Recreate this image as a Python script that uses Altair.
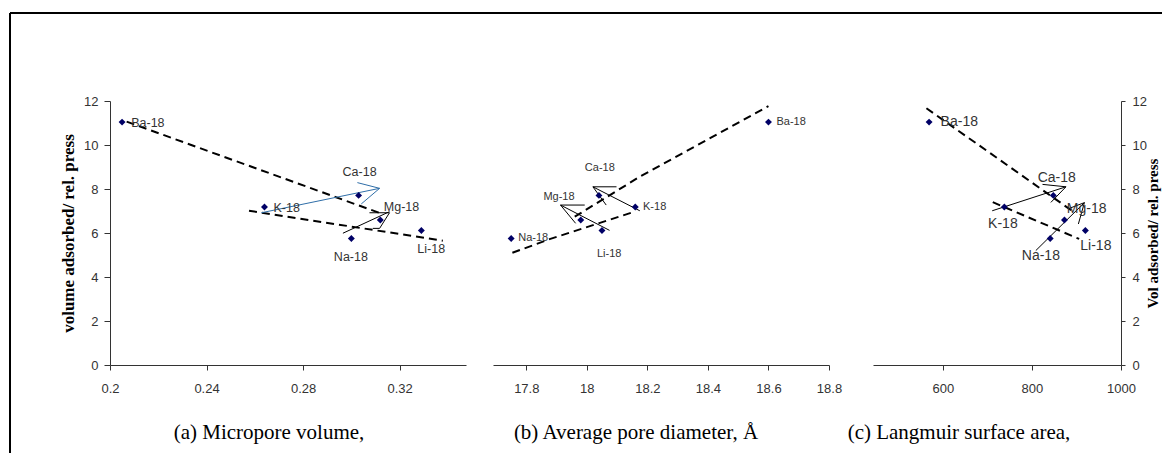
import altair as alt
import pandas as pd

# ---------------- data ----------------
samples = ["Ba-18", "K-18", "Ca-18", "Mg-18", "Na-18", "Li-18"]
vol_adsorbed = [11.04, 7.18, 7.71, 6.59, 5.75, 6.11]
micropore_volume = [0.205, 0.264, 0.303, 0.312, 0.300, 0.329]
pore_diameter = [18.60, 18.16, 18.04, 17.98, 17.75, 18.05]
langmuir_area = [569, 738, 848, 873, 841, 920]

y_ticks = [0, 2, 4, 6, 8, 10, 12]
a_ticks = [0.2, 0.24, 0.28, 0.32]
b_ticks = [17.8, 18.0, 18.2, 18.4, 18.6, 18.8]
c_ticks = [600, 800, 1000]

a_domain = [0.2, 0.3475]
b_domain = [17.69, 18.8]
c_domain = [443, 1000]

# label anchor points (same sample order)
a_label_x = [0.2157, 0.2732, 0.3034, 0.3208, 0.2998, 0.3331]
a_label_y = [10.99, 7.12, 8.76, 7.18, 4.90, 5.26]
b_label_x = [18.675, 18.224, 18.043, 17.908, 17.823, 18.074]
b_label_y = [11.06, 7.20, 8.97, 7.65, 5.76, 5.03]
c_label_x = [636.8, 734.7, 855.6, 923.0, 820.0, 943.5]
c_label_y = [11.06, 6.41, 8.51, 7.09, 4.97, 5.42]

# dashed trend lines: (line id, x, y)
a_trend = [(1, 0.2069, 11.06), (1, 0.313, 6.86), (2, 0.2576, 7.01), (2, 0.3379, 5.65)]
b_trend = [(1, 17.96, 6.74), (1, 18.175, 8.56), (1, 18.60, 11.77),
           (2, 17.754, 5.10), (2, 17.877, 5.72), (2, 18.158, 6.97)]
c_trend = [(1, 563, 11.67), (1, 890, 7.01), (2, 712, 7.40), (2, 906, 5.73)]

# leader arrows: (x1, y1, x2, y2)
a_blue_arrows = [(0.2627, 6.92, 0.3117, 8.03), (0.3117, 8.03, 0.3025, 8.29),
                 (0.3117, 8.03, 0.3041, 7.32)]
a_black_arrows = [(0.2965, 5.99, 0.3158, 6.97), (0.3075, 6.92, 0.3158, 6.92),
                  (0.3158, 6.92, 0.3117, 6.21), (0.3089, 6.21, 0.3117, 6.21)]
b_arrows = [(18.175, 7.01, 18.02, 8.10), (18.02, 8.10, 18.098, 8.10),
            (18.02, 8.10, 18.064, 7.27), (18.075, 6.12, 17.913, 7.27),
            (17.913, 7.27, 17.993, 7.27), (17.913, 7.27, 17.963, 6.44)]
c_arrows = [(710.7, 7.01, 876.4, 8.10), (876.4, 8.10, 823.7, 8.21),
            (876.4, 8.10, 842.5, 7.39), (808.6, 5.20, 917.8, 7.38),
            (917.8, 7.38, 883.9, 7.12), (917.8, 7.38, 904.3, 6.41)]

captions = ["(a) Micropore volume,", "(b) Average pore diameter, Å", "(c) Langmuir surface area,"]

H = 264
SANS = "Liberation Sans"
SERIF = "Liberation Serif"


def seg_df(segs):
    return pd.DataFrame(segs, columns=["x", "y", "x2", "y2"])


def panel(xvals, domain, ticks, fmt, width, lab_x, lab_y, lab_size, trend, arrow_sets,
          caption, cap_x, y_axis, extra=None):
    xs = alt.Scale(domain=domain, nice=False, zero=False)
    ys = alt.Scale(domain=[0, 12], nice=False, zero=False)
    x_axis = alt.Axis(values=ticks, format=fmt, title=None, grid=False, tickSize=5,
                      labelPadding=12, labelFontSize=13, labelFont=SANS, labelColor="#333",
                      domainColor="#333", tickColor="#333", labelFlush=False,
                      labelOverlap=False)
    X = alt.X("x:Q", scale=xs, axis=x_axis)
    Y = alt.Y("y:Q", scale=ys, axis=y_axis)

    trend_df = pd.DataFrame(trend, columns=["line", "x", "y"])
    layers = [
        alt.Chart(trend_df).mark_line(color="black", strokeWidth=2, strokeDash=[8, 5])
        .encode(x=X, y=Y, detail="line:N")
    ]
    for segs, col in arrow_sets:
        layers.append(
            alt.Chart(seg_df(segs)).mark_rule(color=col, strokeWidth=1)
            .encode(x=X, y=Y, x2="x2:Q", y2="y2:Q")
        )
    pts = pd.DataFrame({"x": xvals, "y": vol_adsorbed, "name": samples})
    layers.append(
        alt.Chart(pts).mark_point(shape="diamond", filled=True, size=48,
                                  color="#000066", opacity=1)
        .encode(x=X, y=Y)
    )
    labs = pd.DataFrame({"x": lab_x, "y": lab_y, "name": samples})
    layers.append(
        alt.Chart(labs).mark_text(fontSize=lab_size, font=SANS, color="#333",
                                  align="center", baseline="middle")
        .encode(x=X, y=Y, text="name:N")
    )
    layers.append(
        alt.Chart(pd.DataFrame({"t": [caption]})).mark_text(
            font=SERIF, fontSize=21, color="black", align="center", baseline="middle")
        .encode(x=alt.value(cap_x), y=alt.value(332), text="t:N")
    )
    if extra:
        layers.extend(extra)
    return alt.layer(*layers).properties(width=width, height=H)


one = pd.DataFrame({"k": [0]})
border = [
    alt.Chart(one).mark_rule(color="black", strokeWidth=2)
    .encode(x=alt.value(-100), x2=alt.value(1052), y=alt.value(-88)),
    alt.Chart(one).mark_rule(color="black", strokeWidth=2)
    .encode(x=alt.value(-100), y=alt.value(-88), y2=alt.value(352)),
]

axis_a = alt.Axis(values=y_ticks, title="volume adsorbed/ rel. press", titleFont=SERIF,
                  titleFontWeight="bold", titleFontSize=17, titlePadding=6, titleColor="black",
                  grid=False, tickSize=6, labelPadding=6, labelFontSize=13, labelFont=SANS,
                  labelColor="#333", domainColor="#333", tickColor="#333")
axis_c = alt.Axis(orient="right", values=y_ticks, title="Vol adsorbed/ rel. press",
                  titleAngle=270, titleFont=SERIF, titleFontWeight="bold", titleFontSize=15,
                  titlePadding=14, titleColor="black", grid=False, tickSize=4, labelPadding=7,
                  labelFontSize=13, labelFont=SANS, labelColor="#333", domainColor="#333",
                  tickColor="#333")

pa = panel(micropore_volume, a_domain, a_ticks, "~g", 356, a_label_x, a_label_y, 12.5, a_trend,
           [(a_blue_arrows, "#2f6ea8"), (a_black_arrows, "black")], captions[0], 159,
           axis_a, border)
pb = panel(pore_diameter, b_domain, b_ticks, "~g", 336, b_label_x, b_label_y, 11, b_trend,
           [(b_arrows, "black")], captions[1], 143, None)
pc = panel(langmuir_area, c_domain, c_ticks, "d", 248, c_label_x, c_label_y, 14, c_trend,
           [(c_arrows, "black")], captions[2], 86, axis_c)


def spacer(w):
    return alt.Chart(one).mark_point(opacity=0).encode(
        x=alt.value(0), y=alt.value(0)).properties(width=w, height=H)


chart = alt.hconcat(pa, spacer(7), pb, spacer(24), pc, spacing=10, bounds="flush").properties(
    padding={"left": 1, "top": 4, "right": 0, "bottom": 0}, background="white"
).configure_view(stroke=None)

chart.save("out.html", embed_options={"renderer": "svg", "actions": False})
